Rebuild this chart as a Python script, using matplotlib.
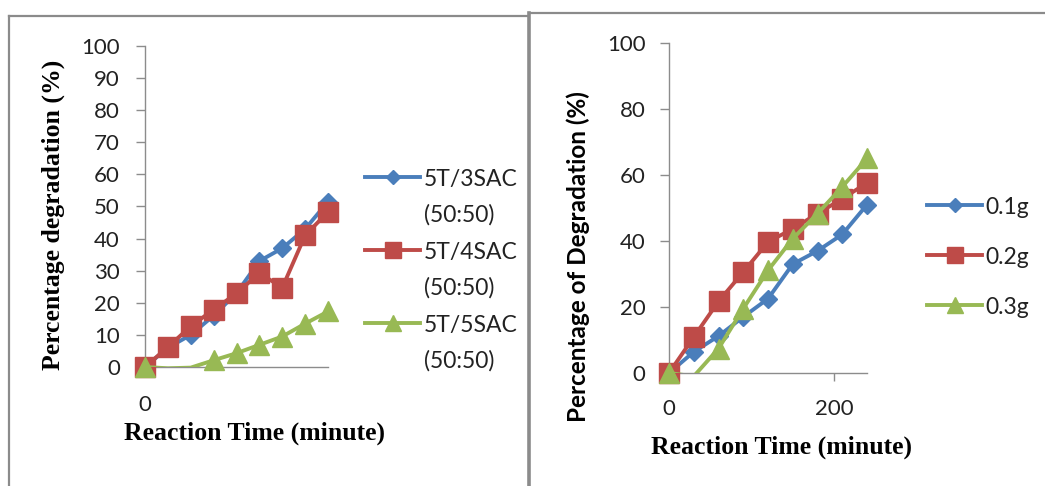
import numpy as np
import matplotlib
matplotlib.use("Agg")
import matplotlib.pyplot as plt
from matplotlib.lines import Line2D

# ---------------- data ----------------
time_min = [0, 30, 60, 90, 120, 150, 180, 210, 240]

left_labels = ["5T/3SAC\n(50:50)", "5T/4SAC\n(50:50)", "5T/5SAC\n(50:50)"]
left_3sac = [0, 6, 10, 16, 23, 33, 37, 43, 51.5]
left_4sac = [0, 6.2, 12.7, 17.9, 22.9, 29.3, 24.7, 41, 48.3]
left_5sac = [0, -0.4, -0.2, 2.1, 4.3, 6.9, 9.5, 13.5, 17.3]

right_labels = ["0.1g", "0.2g", "0.3g"]
right_01 = [0, 6.4, 11.2, 17, 22.5, 33, 37, 42, 51]
right_02 = [0, 10.9, 21.7, 30.6, 39.7, 43.7, 48.3, 52.8, 57.6]
right_03 = [0, -1.0, 7.4, 19.5, 31.1, 40.7, 48.3, 56.4, 65]

left_yticks = list(range(0, 101, 10))
right_yticks = list(range(0, 101, 20))
left_xticks = [0]
right_xticks = [0, 200]

colors = ["#4A7EBB", "#BE4B48", "#98B954"]
markers = ["D", "s", "^"]
msizes = [8.8, 14.4, 14.5]
leg_msizes = [7.0, 11.5, 11.5]

W, H = 1045, 486
fig = plt.figure(figsize=(W / 100, H / 100), dpi=100)

def fx(px):
    return px / W

def fy(py):
    return 1 - py / H

tick_font = "Lato"
serif_bold = dict(family="Liberation Serif", weight="bold")

# panel borders
bc = "#8b8b8b"
fig.add_artist(Line2D([fx(8.5), fx(528)], [fy(16), fy(16)], color=bc, lw=1.6))
fig.add_artist(Line2D([fx(8.5), fx(8.5)], [fy(16), fy(490)], color=bc, lw=1.6))
fig.add_artist(Line2D([fx(528.5), fx(528.5)], [fy(13), fy(490)], color=bc, lw=2.6))
fig.add_artist(Line2D([fx(528.5), fx(1046)], [fy(13), fy(13)], color=bc, lw=1.6))


def style_axes(ax, yticks, xticks, ypad, xpad):
    for s in ["top", "right"]:
        ax.spines[s].set_visible(False)
    for s in ["left", "bottom"]:
        ax.spines[s].set_color("#8c8c8c")
        ax.spines[s].set_linewidth(1.0)
    ax.set_xlim(0, 240)
    ax.set_ylim(0, 100)
    ax.set_yticks(yticks)
    ax.set_xticks(xticks)
    ax.tick_params(axis="y", direction="out", length=6.5, width=1.0,
                   color="#8c8c8c", pad=ypad, labelsize=16)
    ax.tick_params(axis="x", direction="out", length=5.5, width=1.0,
                   color="#8c8c8c", pad=xpad, labelsize=16)
    for lab in ax.get_xticklabels() + ax.get_yticklabels():
        lab.set_family(tick_font)
        lab.set_color("#222222")


def plot_series(ax, x, y, color, marker, ms):
    y = np.asarray(y, dtype=float)
    ax.plot(x, y, color=color, lw=2.8, clip_on=True, zorder=3)
    ym = np.ma.masked_less(y, 0)
    ax.plot(x, ym, linestyle="none", marker=marker, markersize=ms,
            color=color, markeredgecolor=color, clip_on=False, zorder=3)


# ---------------- left panel ----------------
axL = fig.add_axes([fx(145), fy(367), fx(328) - fx(145), fy(46) - fy(367)])
style_axes(axL, left_yticks, left_xticks, ypad=11.5, xpad=14.5)
for ys, c, m, ms in zip([left_3sac, left_4sac, left_5sac], colors, markers, msizes):
    plot_series(axL, time_min, ys, c, m, ms)
axL.set_xlabel("Reaction Time (minute)", fontsize=18.5, **serif_bold)
axL.xaxis.set_label_coords((255 - 145) / 183, (367 - 433) / 321)
axL.xaxis.label.set_va("center")
axL.set_ylabel("Percentage degradation (%)", fontsize=18.5, **serif_bold)
axL.yaxis.set_label_coords((53 - 145) / 183, (367 - 215) / 321)
axL.yaxis.label.set_va("center")

# left legend (drawn manually)
for i, (lab, c, m, ms) in enumerate(zip(left_labels, colors, markers, leg_msizes)):
    yc = 177 + 73 * i
    fig.add_artist(Line2D([fx(365), fx(420)], [fy(yc), fy(yc)], color=c, lw=2.8))
    fig.add_artist(Line2D([fx(392.5)], [fy(yc)], color=c, marker=m, markersize=ms,
                          markeredgecolor=c, linestyle="none"))
    for j, part in enumerate(lab.split("\n")):
        fig.text(fx(424), fy(yc + 36 * j), part, family=tick_font, fontsize=16.5,
                 va="center_baseline", ha="left", color="#222222")

# ---------------- right panel ----------------
axR = fig.add_axes([fx(669), fy(373), fx(867) - fx(669), fy(43) - fy(373)])
style_axes(axR, right_yticks, right_xticks, ypad=10.5, xpad=13.5)
for ys, c, m, ms in zip([right_01, right_02, right_03], colors, markers, msizes):
    plot_series(axR, time_min, ys, c, m, ms)
axR.set_xlabel("Reaction Time (minute)", fontsize=18.5, **serif_bold)
axR.xaxis.set_label_coords((781.5 - 669) / 198, (373 - 447) / 330)
axR.xaxis.label.set_va("center")
axR.set_ylabel("Percentage of Degradation (%)", fontsize=17.5, family="Lato", weight="bold")
axR.yaxis.set_label_coords((578 - 669) / 198, (373 - 256.5) / 330)
axR.yaxis.label.set_va("center")

for i, (lab, c, m, ms) in enumerate(zip(right_labels, colors, markers, leg_msizes)):
    yc = 205 + 50 * i
    fig.add_artist(Line2D([fx(927), fx(982)], [fy(yc), fy(yc)], color=c, lw=2.8))
    fig.add_artist(Line2D([fx(954.5)], [fy(yc)], color=c, marker=m, markersize=ms,
                          markeredgecolor=c, linestyle="none"))
    fig.text(fx(985), fy(yc), lab, family=tick_font, fontsize=16.5,
             va="center_baseline", ha="left", color="#222222")

fig.savefig("out.png", dpi=100)
